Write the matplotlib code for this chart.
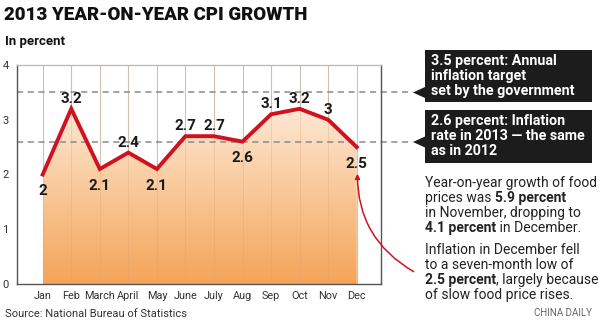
import numpy as np
import matplotlib
matplotlib.use("Agg")
import matplotlib.pyplot as plt
from matplotlib.patches import Polygon, FancyArrowPatch
from matplotlib.colors import LinearSegmentedColormap

# data
months = ["Jan", "Feb", "March", "April", "May", "June", "July", "Aug", "Sep", "Oct", "Nov", "Dec"]
cpi = [2, 3.2, 2.1, 2.4, 2.1, 2.7, 2.7, 2.6, 3.1, 3.2, 3.0, 2.5]
label_above = [False, True, False, True, False, True, True, False, True, True, True, False]
target = 3.5
annual = 2.6
yticks = [0, 1, 2, 3, 4]

FONT = ["Roboto", "DejaVu Sans"]
W, H = 600, 324

fig = plt.figure(figsize=(W / 100, H / 100), dpi=100)
fig.patch.set_facecolor("white")


def fx(px):
    return px / W


def fy(py):
    return 1 - py / H


ax = fig.add_axes([fx(17), fy(284), fx(381) - fx(17), fy(65) - fy(284)])
x = np.arange(len(months))
ax.set_xlim(-0.9, 11.85)
ax.set_ylim(0, 4)

# gradient fill under the line
cmap = LinearSegmentedColormap.from_list("peach", ["#f4a458", "#fde8d4"])
grad = np.linspace(0, 1, 256).reshape(-1, 1)
im = ax.imshow(grad, extent=[x[0], x[-1], 0, max(cpi)], origin="lower",
               cmap=cmap, aspect="auto", zorder=1)
poly = Polygon(np.column_stack([np.r_[x[0], x, x[-1]], np.r_[0, cpi, 0]]),
               closed=True, facecolor="none", edgecolor="none")
ax.add_patch(poly)
im.set_clip_path(poly)

for xi in x:
    ax.axvline(xi, color="#cccccc", lw=0.8, zorder=0.5)
    ax.axvline(xi, color="#d9a070", lw=0.6, zorder=1.5, alpha=0.35)

# reference lines reaching out to the boxes
trans = ax.get_yaxis_transform()
for yv in (target, annual):
    ax.plot([0, (413 - 17) / 364], [yv, yv], transform=trans, color="#8a8a8a",
            lw=1.1, ls=(0, (4, 3)), clip_on=False, zorder=2)

ax.plot(x, cpi, color="#d0111f", lw=2.8, solid_joinstyle="miter", zorder=3)

for xi, v, up in zip(x, cpi, label_above):
    ax.annotate(f"{v:g}", (xi, v), xytext=(0, 2 if up else -7),
                textcoords="offset points", ha="center",
                va="bottom" if up else "top", fontsize=11,
                fontweight="bold", color="#1a1a1a", family=FONT, zorder=4)

ax.set_xticks(x)
ax.set_xticklabels(months, fontsize=7.8, color="#333333", family=FONT)
ax.set_yticks(yticks)
ax.set_yticklabels([str(t) for t in yticks], fontsize=8, color="#333333", family=FONT)
ax.tick_params(length=0, pad=5)
ax.tick_params(axis="y", pad=6)
for side, sp in ax.spines.items():
    sp.set_color("#555555" if side in ("left", "bottom", "right") else "#bdbdbd")
    sp.set_linewidth(1.0)

# title and unit
fig.text(fx(4), fy(15), "2013 YEAR-ON-YEAR CPI GROWTH", fontsize=13.5,
         fontweight="heavy", family=FONT, color="#111111", va="center")
fig.text(fx(5), fy(42), "In percent", fontsize=9.5, fontweight="bold",
         family=FONT, color="#111111", va="center")

# black callout boxes
boxes = [
    (50, 102, 92.5, "3.5 percent: Annual\ninflation target\nset by the government"),
    (110, 163, 142, "2.6 percent: Inflation\nrate in 2013 \u2014 the same\nas in 2012"),
]
for top, bot, tip, txt in boxes:
    pts = [(425, top), (592, top), (592, bot), (425, bot), (425, tip + 5.5),
           (413, tip), (425, tip - 5.5)]
    fig.patches.append(Polygon([(fx(a), fy(b)) for a, b in pts], closed=True,
                               transform=fig.transFigure, facecolor="#1c1c1c",
                               edgecolor="none"))
    fig.text(fx(431), fy(top + 4), txt, fontsize=10.3, fontweight="bold",
             family=FONT, color="white", va="top", linespacing=1.1)

# paragraphs with bold runs
para1 = [
    [("Year-on-year growth of food", "normal")],
    [("prices was ", "normal"), ("5.9 percent", "bold")],
    [("in November, dropping to", "normal")],
    [("4.1 percent", "bold"), (" in December.", "normal")],
]
para2 = [
    [("Inflation in December fell", "normal")],
    [("to a seven-month low of", "normal")],
    [("2.5 percent", "bold"), (", largely because", "normal")],
    [("of slow food price rises.", "normal")],
]


def chain(lines, y0, step=15):
    for i, runs in enumerate(lines):
        prev = None
        for s, w in runs:
            kw = dict(fontsize=10, fontweight=w, family=FONT, color="#222222")
            if prev is None:
                prev = fig.text(fx(425), fy(y0 + i * step), s, va="baseline", **kw)
            else:
                prev = ax.annotate(s, xy=(1, 0), xycoords=prev, va="bottom",
                                   annotation_clip=False, **kw)


chain(para1, 187)
chain(para2, 254)

fig.text(fx(592), fy(313), "CHINA DAILY", fontsize=7, family=FONT,
         color="#666666", ha="right", va="center")
fig.text(fx(5), fy(314), "Source: National Bureau of Statistics", fontsize=8,
         family=FONT, color="#333333", va="center")

# red pointer from the note to the December value
arrow = FancyArrowPatch((fx(416), fy(273)), (fx(357.5), fy(171)),
                        transform=fig.transFigure,
                        connectionstyle="arc3,rad=-0.3", arrowstyle="-|>",
                        mutation_scale=7, color="#d0111f", lw=1.1)
fig.patches.append(arrow)

fig.savefig("out.png", dpi=100)
